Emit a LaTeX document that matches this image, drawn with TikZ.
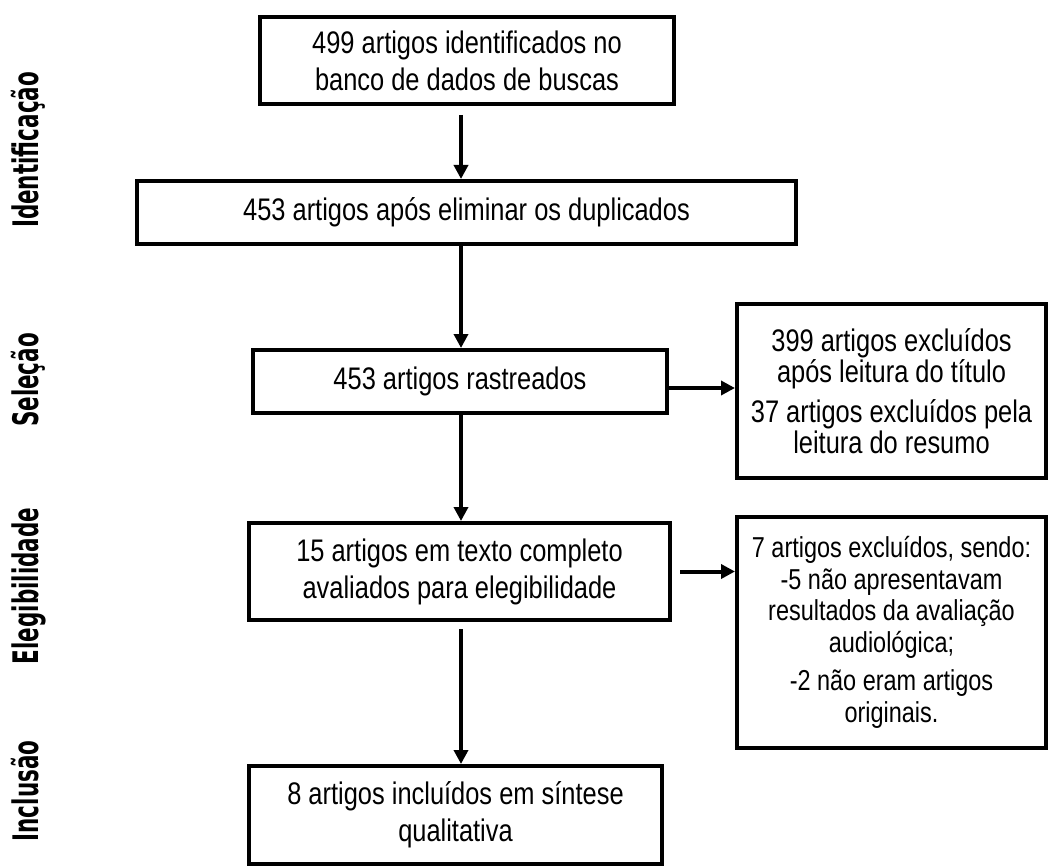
\documentclass[tikz,border=0pt]{standalone}
\usepackage{fontspec}
\setmainfont[FakeStretch=0.815]{Liberation Sans}
\newfontfamily\stagefont[FakeStretch=0.61]{DejaVu Sans}
\usetikzlibrary{arrows.meta}

\begin{document}
\begin{tikzpicture}[x=0.5pt, y=-0.5pt, >={Triangle[length=7pt,width=7pt]},
  box/.style={draw, line width=2pt, inner sep=0pt, align=center,
    font=\fontsize{15.6}{18.5}\selectfont},
  side/.style={box, font=\fontsize{15.6}{15.5}\selectfont},
  flow/.style={->, line width=2pt},
  stage/.style={rotate=90, anchor=base,
    font=\stagefont\bfseries\fontsize{17.6}{20}\selectfont}]

\useasboundingbox (0,0) rectangle (1048,866);

% stages
\node[stage] (sIdent) at (38,150) {Identificação};
\node[stage] (sSel) at (38,380) {Seleção};
\node[stage] (sEleg) at (38,586) {Elegibilidade};
\node[stage] (sIncl) at (38,791) {Inclusão};

% main column
\node[box, minimum width=207pt, minimum height=43.5pt] (found) at (467,60.5)
  {499 artigos identificados no\\banco de dados de buscas};
\node[box, minimum width=329.5pt, minimum height=31.5pt] (dedup) at (466.5,212.5)
  {453 artigos após eliminar os duplicados};
\node[box, minimum width=207pt, minimum height=31.5pt] (screen) at (460,381.5)
  {453 artigos rastreados};
\node[box, minimum width=210.5pt, minimum height=48.5pt] (full) at (459.5,571.5)
  {15 artigos em texto completo\\avaliados para elegibilidade};
\node[box, minimum width=206.5pt, minimum height=49pt] (incl) at (455.5,815)
  {8 artigos incluídos em síntese\\qualitativa};

% exclusions
\node[side, minimum width=154.5pt, minimum height=87pt] (exA) at (891.5,391)
  {399 artigos excluídos\\após leitura do título\\[4.5pt]37 artigos excluídos pela\\leitura do resumo};
\node[side, minimum width=154.5pt, minimum height=115.5pt, font=\fontsize{14.4}{15.75}\selectfont] (exB) at (891.5,632.5)
  {7 artigos excluídos, sendo:\\-5 não apresentavam\\resultados da avaliação\\audiológica;\\[3.5pt]-2 não eram artigos\\originais.};

\coordinate (spine) at (461,0);
\draw[flow, shorten <=4.5pt] (found.south -| spine) -- (dedup.north -| spine);
\draw[flow] (dedup.south -| spine) -- (screen.north -| spine);
\draw[flow] (screen.south -| spine) -- (full.north -| spine);
\draw[flow, shorten <=3.5pt] (full.south -| spine) -- (incl.north -| spine);

\draw[flow] ([yshift=-3.25pt]screen.east) -- ([yshift=-3.25pt]screen.east -| exA.west);
\draw[flow, shorten <=4pt] (full.east) -- (full.east -| exB.west);

\end{tikzpicture}
\end{document}
